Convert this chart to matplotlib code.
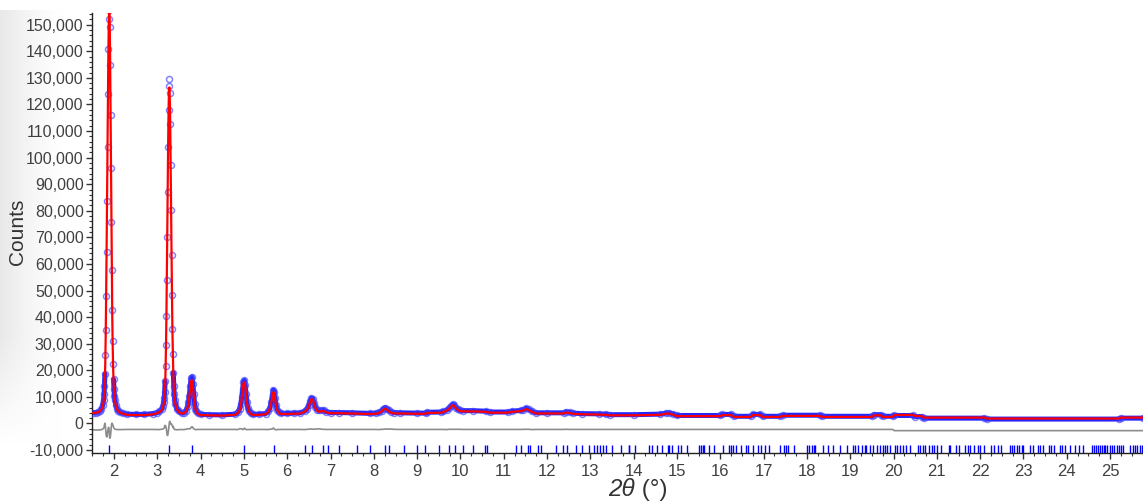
import matplotlib
matplotlib.use("Agg")
import matplotlib.pyplot as plt
import numpy as np
from matplotlib.ticker import MultipleLocator, FuncFormatter

# ---- powder pattern: observed and calculated intensities -------------------
two_theta = [
    1.52, 1.58, 1.64, 1.68, 1.71, 1.74, 1.76, 1.77,
    1.78, 1.79, 1.80, 1.81, 1.82, 1.83, 1.84, 1.85, 1.86, 1.87, 1.88, 1.89,
    1.90, 1.91, 1.92, 1.93, 1.94, 1.95, 1.96, 1.97, 1.98, 1.99, 2.00,
    2.01, 2.02, 2.04, 2.07, 2.10, 2.15, 2.20, 2.30, 2.50, 2.70, 2.90, 3.00,
    3.05, 3.10, 3.13, 3.15, 3.16,
    3.17, 3.18, 3.19, 3.20, 3.21, 3.22, 3.23, 3.24, 3.25, 3.26, 3.27, 3.28,
    3.29, 3.30, 3.31, 3.32, 3.33, 3.34, 3.35, 3.36, 3.37, 3.38, 3.39,
    3.40, 3.42, 3.45, 3.50, 3.56, 3.62, 3.66, 3.70, 3.72, 3.74, 3.76, 3.78,
    3.80, 3.82, 3.84, 3.86, 3.88, 3.90, 3.94, 4.00,
    4.20, 4.50, 4.80, 4.86, 4.90, 4.93, 4.95, 4.97, 4.99, 5.01, 5.03, 5.05,
    5.07, 5.09, 5.12, 5.16, 5.22, 5.35,
    5.50, 5.56, 5.60, 5.63, 5.66, 5.68, 5.70, 5.72, 5.74, 5.77, 5.80, 5.86,
    6.00, 6.15, 6.30,
    6.40, 6.46, 6.50, 6.53, 6.56, 6.59, 6.62, 6.65, 6.69, 6.74, 6.80, 6.85,
    6.90, 7.00, 7.20, 7.50, 7.90,
    8.05, 8.12, 8.18, 8.22, 8.26, 8.30, 8.34, 8.40, 8.46, 8.60, 9.00, 9.20,
    9.22, 9.55, 9.60,
    9.68, 9.74, 9.78, 9.82, 9.86, 9.90, 9.94, 9.98, 10.05, 10.30, 10.60,
    10.68, 11.10, 11.18, 11.40,
    11.45, 11.52, 11.58, 11.66, 11.75, 12.00, 12.38, 12.44, 12.52, 12.60,
    12.80, 13.20, 13.35, 13.45, 14.00,
    14.60, 14.75, 14.82, 14.90, 15.00, 16.00, 16.05, 16.25, 16.32, 16.70,
    16.75, 16.92, 16.98, 17.38, 17.44, 18.30, 18.35, 19.50, 19.55, 19.70,
    19.76, 19.98,
    20.02, 20.45, 20.50, 20.65, 20.70, 22.10, 22.15, 25.20, 25.25, 25.76,
]

y_obs = [
    4100, 4100, 4300, 4800, 5500, 7000, 9000, 11000,
    14000, 18600, 25600, 35000, 48000, 64500, 83500, 104000, 124000, 141000, 152000, 155500,
    149000, 135000, 116000, 96000, 75600, 57600, 42500, 31000, 22500, 16600, 12800,
    10500, 9000, 7000, 5500, 4800, 4200, 3900, 3500, 3400, 3400, 3700, 4100,
    4500, 5300, 6500, 8000, 9500,
    12000, 15800, 21600, 29700, 40500, 54000, 70000, 87000, 104000, 118000, 127000, 129500,
    124300, 112800, 97300, 80200, 63300, 48300, 35700, 26000, 19100, 14200, 10900,
    9000, 7200, 5500, 4500, 3900, 4100, 4800, 6500, 8000, 10500, 14000, 17000,
    17500, 15000, 11000, 7500, 5600, 4600, 3800, 3400,
    3300, 3200, 3500, 4200, 5500, 7500, 10000, 13000, 15500, 16200, 14500, 11000,
    8000, 6000, 4600, 3800, 3400, 3500,
    3700, 4500, 5800, 8000, 11000, 12600, 12000, 9500, 7000, 5200, 4300, 3800,
    3800, 3900, 4000,
    4600, 5500, 7000, 8600, 9600, 9300, 7800, 6200, 5200, 4900, 5000, 4900,
    4400, 4100, 4100, 4000, 3800,
    3900, 4200, 4800, 5500, 6000, 5600, 5000, 4400, 4100, 4000, 3900, 3900,
    4200, 4300, 4500,
    5000, 5800, 6600, 7200, 6800, 6000, 5400, 5000, 4800, 4800, 4600,
    4300, 4300, 4600, 4900,
    5200, 5700, 5300, 4500, 4000, 4000, 4000, 4400, 4200, 3900,
    3700, 3600, 3500, 3300, 3300,
    3500, 3900, 4000, 3600, 3000, 3000, 3400, 3400, 2700, 2700,
    3400, 3400, 2700, 2700, 3100, 3100, 2700, 2700, 3300, 3300,
    2700, 2700,
    3000, 3000, 2600, 2600, 2000, 2000, 1650, 1650, 2000, 2000,
]

y_calc = [
    4000, 4050, 4250, 4700, 5300, 6600, 8300, 10000,
    12000, 16000, 24000, 35000, 50000, 67000, 86000, 105000, 124000, 140000, 151000, 156000,
    152000, 138000, 118000, 96000, 74000, 55000, 40000, 29000, 21000, 15500, 12000,
    10000, 8600, 6700, 5300, 4600, 4000, 3700, 3250, 3150, 3150, 3450, 3900,
    4300, 5000, 6100, 7400, 8700,
    10500, 14000, 20000, 28500, 40000, 55000, 72000, 89000, 105000, 118000, 125500, 126400,
    121000, 110000, 95000, 78000, 61000, 46500, 34000, 25000, 18000, 13500, 10500,
    8800, 7000, 5400, 4300, 3700, 3900, 4500, 6000, 7500, 10000, 13500, 16000,
    16200, 14000, 10500, 7200, 5400, 4400, 3550, 3150,
    3050, 2950, 3250, 4000, 5000, 7000, 9500, 12800, 15200, 15500, 14000, 10800,
    7800, 5800, 4400, 3550, 3150, 3250,
    3450, 4300, 5500, 7600, 10600, 11800, 11500, 9300, 6900, 5000, 4050, 3550,
    3550, 3650, 3750,
    4400, 5200, 6600, 8200, 9200, 9000, 7400, 5800, 4800, 4400, 4700, 4600,
    4150, 3850, 3850, 3750, 3550,
    3650, 4000, 4500, 5200, 5600, 5200, 4600, 4000, 3800, 3750, 3650, 3650,
    3950, 4050, 4250,
    4800, 5500, 6300, 6900, 6500, 5700, 5100, 4700, 4550, 4550, 4350,
    4050, 4050, 4350, 4650,
    4900, 5400, 5000, 4300, 3750, 3750, 3750, 4100, 3950, 3650,
    3450, 3350, 3250, 3050, 3050,
    3250, 3650, 3750, 3350, 2750, 2750, 3150, 3150, 2450, 2450,
    3150, 3150, 2450, 2450, 2850, 2850, 2450, 2450, 3050, 3050,
    2450, 2450,
    3200, 3200, 2800, 2800, 2200, 2200, 1850, 1850, 2200, 2200,
]

# vertical shift applied to the difference curve
diff_offset = -2500

# Bragg reflection positions (degrees 2-theta)
reflections = [
    1.89, 3.28, 3.79, 5.01, 5.69, 6.40, 6.58, 6.83, 6.95, 7.20, 7.60, 7.92,
    8.26, 8.35, 8.70, 8.99, 9.18, 9.50, 9.74, 9.87, 10.05, 10.29, 10.56, 10.62,
    11.29, 11.39, 11.56, 11.61, 11.79, 11.87, 12.21, 12.37, 12.45, 12.67, 12.81,
    12.96, 13.08, 13.15, 13.22, 13.29, 13.37, 13.51, 13.71, 13.88, 13.90, 14.03,
    14.36, 14.42, 14.53, 14.66, 14.79, 14.82, 14.88, 15.03, 15.10, 15.22, 15.51,
    15.55, 15.59, 15.62, 15.73, 15.86, 16.07, 16.20, 16.24, 16.30, 16.36, 16.48,
    16.59, 16.63, 16.75, 16.87, 16.93, 17.04, 17.12, 17.37, 17.46, 17.51, 17.57,
    17.70, 18.01, 18.05, 18.11, 18.16, 18.19, 18.36, 18.49, 18.60, 18.77, 18.92,
    19.07, 19.10, 19.19, 19.28, 19.34, 19.37, 19.46, 19.53, 19.62, 19.68, 19.75,
    19.81, 19.86, 19.91, 20.04, 20.09, 20.15, 20.21, 20.29, 20.37, 20.56, 20.62,
    20.67, 20.73, 20.82, 20.89, 20.94, 21.00, 21.09, 21.27, 21.31, 21.45, 21.50,
    21.66, 21.71, 21.77, 21.85, 21.94, 22.00, 22.10, 22.26, 22.33, 22.41, 22.49,
    22.68, 22.73, 22.79, 22.85, 22.90, 22.96, 23.00, 23.16, 23.21, 23.33, 23.39,
    23.45, 23.58, 23.64, 23.70, 23.85, 23.90, 23.97, 24.08, 24.20, 24.29, 24.37,
    24.58, 24.63, 24.68, 24.72, 24.77, 24.81, 24.85, 24.89, 24.93, 24.99, 25.04,
    25.10, 25.16, 25.20, 25.25, 25.29, 25.47, 25.52, 25.58, 25.62, 25.68, 25.74,
]

x_label_italic = "2θ"
x_label_unit = " (°)"
y_label = "Counts"

# ---- figure -----------------------------------------------------------------
plt.rcParams['font.family'] = ['Liberation Sans', 'DejaVu Sans']

W, H = 1143, 501
fig = plt.figure(figsize=(W / 100, H / 100), dpi=100)
fig.patch.set_facecolor('white')

# soft grey shading along the left edge
shade = fig.add_axes([0, 0, 62 / W, 1 - 10 / H], zorder=-5)
u = np.linspace(0, 1, 120)[None, :]
v = np.linspace(0, 1, 300)[:, None]           # 0 at top, 1 at bottom
vfade = np.clip((0.88 - v) / 0.22, 0, 1)
dark = 0.09 * (1 - u) ** 1.3 * vfade
img = np.dstack([1 - dark] * 3)
shade.imshow(img, aspect='auto', extent=[0, 1, 0, 1], interpolation='bilinear')
shade.set_axis_off()

ax = fig.add_axes([92 / W, 1 - 452.7 / H, (W - 92) / W, (452.7 - 13) / H])
ax.set_facecolor('none')

obs = np.array(y_obs, dtype=float)
calc = np.array(y_calc, dtype=float)
tt = np.array(two_theta, dtype=float)

# thick observed trace where the points crowd together along the baseline
band = np.where(obs < 20000, obs, np.nan)
ax.plot(tt, band, color=(0.05, 0.05, 1.0), lw=3.6, alpha=0.9,
        solid_joinstyle='round', solid_capstyle='round', zorder=2)
ax.plot(tt, obs, ls='none', marker='o', ms=4.3, mfc='none',
        mec=(0.25, 0.25, 1.0, 0.65), mew=1.1, zorder=3)
ax.plot(tt, calc, color='#ff0000', lw=1.6, zorder=4)
ax.plot(tt, obs - calc + diff_offset, color='#8c8c8c', lw=1.2, zorder=2)
ax.vlines(reflections, -11000, -8000, color='#0000ff', lw=1.0, zorder=2)

ax.set_xlim(1.492, 25.76)
ax.set_ylim(-11000, 154400)

for side in ('top', 'right'):
    ax.spines[side].set_visible(False)
for side in ('left', 'bottom'):
    ax.spines[side].set_color('#222222')
    ax.spines[side].set_linewidth(1.0)

ax.xaxis.set_major_locator(MultipleLocator(1))
ax.xaxis.set_minor_locator(MultipleLocator(0.25))
ax.yaxis.set_major_locator(MultipleLocator(10000))
ax.yaxis.set_minor_locator(MultipleLocator(2000))
ax.yaxis.set_major_formatter(FuncFormatter(lambda val, pos: f"{int(round(val)):,}"))
ax.xaxis.set_major_formatter(FuncFormatter(lambda val, pos: f"{int(round(val))}"))

ax.tick_params(axis='both', which='both', direction='out', color='#333333',
               labelcolor='#404040')
ax.tick_params(axis='y', which='major', length=4.5, width=1, pad=1.5, labelsize=11.5)
ax.tick_params(axis='y', which='minor', length=2.5, width=0.8)
ax.tick_params(axis='x', which='major', length=4, width=1, pad=4, labelsize=12)
ax.tick_params(axis='x', which='minor', length=2.5, width=0.8)

# axis titles
fig.text(18 / W, 1 - 232 / H, y_label, rotation=90, ha='center', va='center',
         fontsize=15, color='#333333')

renderer = fig.canvas.get_renderer()
t1 = fig.text(0, 0, x_label_italic, fontsize=17.5, style='italic', color='#333333',
              va='baseline')
t2 = fig.text(0, 0, x_label_unit, fontsize=17.5, color='#333333', va='baseline')
w1 = t1.get_window_extent(renderer).width
w2 = t2.get_window_extent(renderer).width
x0 = 638 - (w1 + w2) / 2
base_y = 5 / H
t1.set_position((x0 / W, base_y))
t2.set_position(((x0 + w1) / W, base_y))

fig.savefig("out.png", dpi=100, facecolor='white')
